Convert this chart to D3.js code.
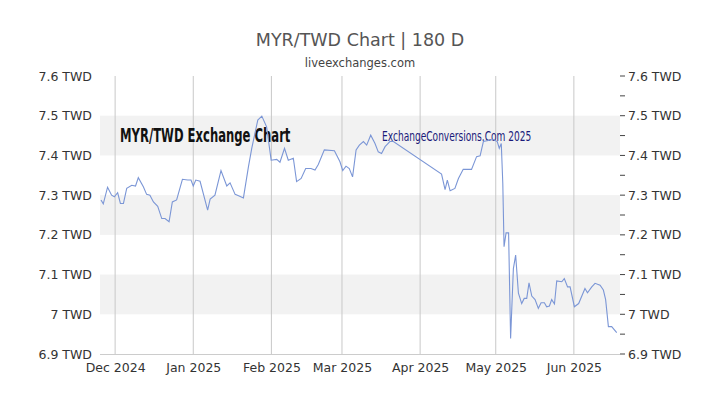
<!DOCTYPE html><html><head><meta charset="utf-8">
<script src="https://cdn.jsdelivr.net/npm/d3@7"></script>
<style>body{margin:0;background:#fff}svg{font-family:"DejaVu Sans",sans-serif}</style></head><body>
<svg id="c" width="720" height="405"></svg>
<script>
const startDate = new Date(2024,10,25);
const dayOffsets = [0.4,1.3,3.0,4.6,5.7,7.0,8.1,9.3,10.6,12.6,14.1,15.2,17.2,18.5,19.8,21.2,22.9,24.5,25.8,27.4,28.7,30.4,32.7,34.8,36.1,37.0,38.0,39.7,42.7,43.7,45.6,48.0,50.3,51.6,53.6,55.2,56.9,58.9,60.2,62.6,64.2,66.1,67.9,70.1,71.4,73.2,74.7,76.7,78.0,79.8,81.6,83.7,85.3,86.6,89.0,93.0,
95.2,96.3,97.6,98.9,100.2,101.6,102.9,104.5,105.8,107.4,109.1,110.4,111.7,113.1,115.0,116.4,135.5,136.9,137.8,138.9,140.8,142.2,144.1,147.4,149.4,150.8,152.1,156.0,157.6,158.4,159.2,159.8,160.3,161.1,162.1,162.9,164.0,164.9,166.0,167.3,168.3,169.3,170.2,171.3,172.6,173.9,175.0,176.3,177.2,178.3,179.2,180.3,181.2,183.2,184.2,185.5,186.5,188.2,189.9,192.4,193.4,195.1,196.4,198.4,199.7,200.6,201.7,203.0,205.0];
const rates = [7.288,7.278,7.320,7.300,7.296,7.306,7.279,7.279,7.317,7.325,7.323,7.344,7.321,7.302,7.300,7.283,7.272,7.241,7.241,7.233,7.283,7.288,7.340,7.338,7.338,7.323,7.338,7.335,7.262,7.290,7.300,7.362,7.323,7.331,7.302,7.298,7.293,7.372,7.418,7.489,7.499,7.472,7.388,7.390,7.383,7.418,7.388,7.393,7.334,7.342,7.367,7.367,7.363,7.377,7.414,7.412,
7.384,7.362,7.373,7.367,7.346,7.414,7.426,7.435,7.426,7.451,7.430,7.409,7.405,7.422,7.435,7.435,7.353,7.314,7.338,7.311,7.317,7.342,7.365,7.365,7.397,7.399,7.435,7.440,7.435,7.418,7.430,7.330,7.170,7.205,7.205,6.939,7.115,7.149,7.053,7.027,7.040,7.040,7.079,7.046,7.037,7.015,7.029,7.029,7.019,7.021,7.037,7.026,7.084,7.082,7.090,7.069,7.069,7.019,7.027,7.065,7.054,7.069,7.078,7.073,7.061,7.037,6.969,6.969,6.954];
const yTicks = [6.9,7.0,7.1,7.2,7.3,7.4,7.5,7.6];
const yTickLabels = ["6.9 TWD","7 TWD","7.1 TWD","7.2 TWD","7.3 TWD","7.4 TWD","7.5 TWD","7.6 TWD"];
const monthTicks = [new Date(2024,11,1),new Date(2025,0,1),new Date(2025,1,1),new Date(2025,2,1),new Date(2025,3,1),new Date(2025,4,1),new Date(2025,5,1)];
const monthLabels = ["Dec 2024","Jan 2025","Feb 2025","Mar 2025","Apr 2025","May 2025","Jun 2025"];

const data = dayOffsets.map((d,i)=>({date:new Date(startDate.getTime()+d*864e5),v:rates[i]}));
const svg = d3.select("#c");
const L=100,R=620,T=76,B=354;
const x = d3.scaleTime().domain([startDate,new Date(startDate.getTime()+206.3*864e5)]).range([L,R]);
const y = d3.scaleLinear().domain([6.9,7.6]).range([B,T]);

[[7.4,7.5],[7.2,7.3],[7.0,7.1]].forEach(b=>svg.append("rect").attr("x",L).attr("width",R-L)
  .attr("y",y(b[1])).attr("height",y(b[0])-y(b[1])).attr("fill","#f2f2f2"));
svg.selectAll(".vg").data(monthTicks).join("line").attr("x1",d=>x(d)).attr("x2",d=>x(d))
  .attr("y1",T).attr("y2",B).attr("stroke","#c8c8c8").attr("stroke-width",1);
svg.append("line").attr("x1",L).attr("x2",R).attr("y1",B+0.5).attr("y2",B+0.5).attr("stroke","#ccc");

svg.append("text").attr("font-family","'DejaVu Sans Condensed',sans-serif")
  .attr("font-weight","bold").attr("font-size",19).attr("fill","#111").attr("transform","translate(120,142) scale(0.68,1)").text("MYR/TWD Exchange Chart");
svg.append("text").attr("font-family","'DejaVu Sans Condensed',sans-serif")
  .attr("font-size",14).attr("fill","#1a1a7a").attr("transform","translate(382,141) scale(0.72,1)").text("ExchangeConversions.Com 2025");

svg.append("path").datum(data).attr("fill","none").attr("stroke","#7b96d6").attr("stroke-width",1.1)
  .attr("d",d3.line().x(d=>x(d.date)).y(d=>y(d.v)));

const fmt = v=>yTickLabels[yTicks.findIndex(t=>Math.abs(t-v)<1e-6)];
const la = svg.append("g").attr("transform",`translate(${L},0)`).call(d3.axisLeft(y).tickValues(yTicks).tickFormat(fmt).tickSize(0).tickPadding(8));
const ra = svg.append("g").attr("transform",`translate(${R},0)`).call(d3.axisRight(y).tickValues(yTicks).tickFormat(fmt).tickSize(0).tickPadding(8));
[la,ra].forEach(g=>{g.select(".domain").remove();g.selectAll("text").attr("font-size",12.5).attr("fill","#333").attr("font-family","'DejaVu Sans',sans-serif");});
svg.selectAll(".mt").data(d3.range(6.9,7.601,0.05)).join("line").attr("x1",R).attr("x2",R+5)
  .attr("y1",d=>y(d)).attr("y2",d=>y(d)).attr("stroke","#444");
const xa = svg.append("g").attr("transform",`translate(0,${B})`).call(d3.axisBottom(x).tickValues(monthTicks).tickFormat((d,i)=>monthLabels[i]).tickSize(0).tickPadding(9));
xa.select(".domain").remove();
xa.selectAll("text").attr("font-size",12.5).attr("fill","#333").attr("font-family","'DejaVu Sans',sans-serif");

svg.append("text").attr("x",360).attr("y",46).attr("text-anchor","middle").attr("font-size",17.5).attr("fill","#555").text("MYR/TWD Chart | 180 D");
svg.append("text").attr("x",360).attr("y",67).attr("text-anchor","middle").attr("font-size",11.5).attr("fill","#444").text("liveexchanges.com");
</script></body></html>
